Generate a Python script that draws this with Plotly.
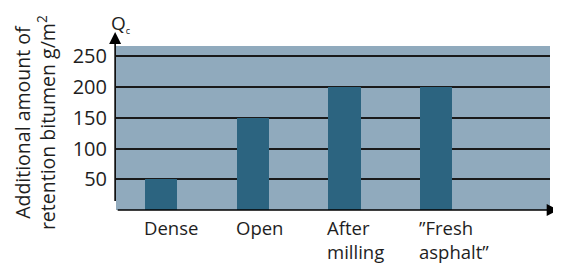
import plotly.graph_objects as go

categories = ["Dense", "Open", "After<br>milling", "\u201dFresh<br>asphalt\u201d"]
values = [50, 150, 200, 200]
tick_vals = [50, 100, 150, 200, 250]
tick_text = ["50", "100", "150", "200", "250"]

FONT = "Open Sans"
BAR = "#2c6480"
BG = "#90aabd"
TXT = "#1e1e1e"

x_pos = list(range(len(categories)))
bar_w = 0.35

fig = go.Figure()
fig.add_trace(go.Bar(x=x_pos, y=values, width=bar_w, marker=dict(color=BAR, line=dict(width=0)),
                     hoverinfo="skip"))

annotations = []
for i, c in enumerate(categories):
    annotations.append(dict(x=i - bar_w / 2, xref="x", y=-0.02, yref="paper", text=c,
                            showarrow=False, xanchor="left", yanchor="top", align="left",
                            xshift=-3, font=dict(family=FONT, size=18.5, color=TXT)))
# axis arrows
annotations.append(dict(x=1.02, y=0, xref="paper", yref="paper", ax=-444, ay=0,
                        axref="pixel", ayref="pixel", showarrow=True, arrowhead=2,
                        arrowsize=1.5, arrowwidth=1.6, arrowcolor="black", text=" "))
annotations.append(dict(x=-0.002, y=1.085, xref="paper", yref="paper", ax=0, ay=179,
                        showarrow=True, arrowhead=2, arrowsize=1.5, arrowwidth=1.6,
                        arrowcolor="black", text=" "))
annotations.append(dict(x=0.012, y=1.14, xref="paper", yref="paper",
                        text="Q<sub><span style='font-size:9px'>c</span></sub>",
                        showarrow=False, xanchor="center", yanchor="middle",
                        font=dict(family=FONT, size=19, color=TXT)))
annotations.append(dict(x=-0.187, y=0.535, xref="paper", yref="paper",
                        text="Additional amount of<br>retention bitumen g/m<sup>2</sup>",
                        textangle=-90, showarrow=False, xanchor="center", yanchor="middle",
                        font=dict(family=FONT, size=19.5, color=TXT)))

fig.update_layout(
    width=561, height=265,
    margin=dict(l=108, r=19, t=38, b=63),
    paper_bgcolor="white", plot_bgcolor=BG,
    showlegend=False,
    bargap=0,
    xaxis=dict(range=[-0.49, 4.24], showgrid=False, zeroline=False, showticklabels=False,
               showline=False, fixedrange=True),
    yaxis=dict(range=[0, 267], tickvals=tick_vals, ticktext=tick_text, showgrid=True,
               gridcolor="#1a1a1a", gridwidth=1.5, zeroline=False, showline=False,
               ticks="", ticklabelstandoff=8,
               tickfont=dict(family=FONT, size=20, color=TXT), fixedrange=True),
    annotations=annotations,
)

fig.write_html("out.html")
